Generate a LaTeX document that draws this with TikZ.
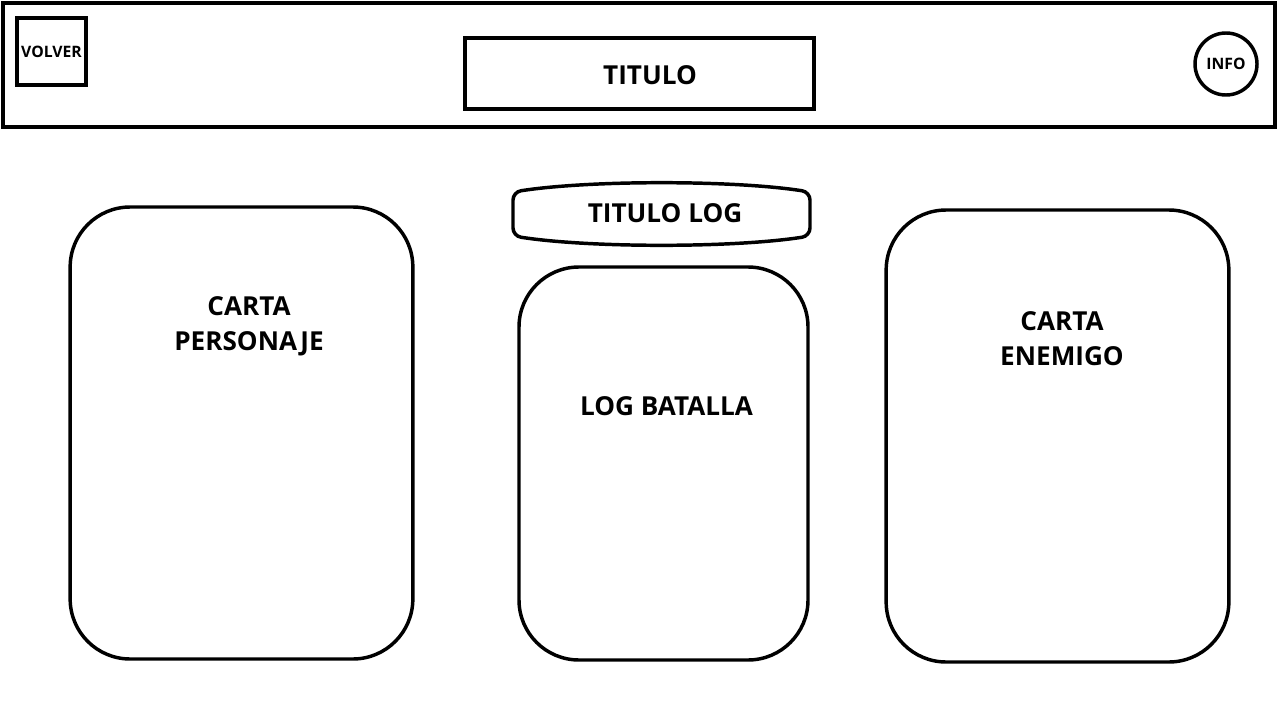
\documentclass[tikz,border=0pt]{standalone}
\usepackage{fontspec}
\setmainfont{Open Sans}
\begin{document}
\begin{tikzpicture}[x=0.75pt, y=-0.75pt,
       every node/.style={font=\bfseries\fontsize{19.6pt}{26.25pt}\selectfont, align=center},
       caja/.style={draw, line width=2.6pt, rectangle, inner sep=0pt},
       carta/.style={caja, rounded corners=45pt, minimum width=257pt, minimum height=339pt},
       chico/.style={font=\bfseries\fontsize{11.8pt}{13pt}\selectfont}]
\useasboundingbox (0,0) rectangle (1277,710);
% cabecera
\node[caja, line width=3pt, minimum width=954pt, minimum height=93pt] (cabecera) at (639,65) {};
\node[caja, minimum width=51.75pt, minimum height=50.25pt, chico] (volver) at (51.5,51.5) {VOLVER};
\node[caja, minimum width=261.75pt, minimum height=53.25pt] (titulo) at (639.5,73.5) {};
\node (txttitulo) at (650,75) {TITULO};
\node[caja, circle, minimum size=46.5pt, chico] (info) at (1226,64) {INFO};
% cartas
\node[carta] (personaje) at (241.5,433) {};
\node (txtpersonaje) at (249,326) {CARTA\\PERSONAJE};
\node[carta] (enemigo) at (1057.5,436) {};
\node (txtenemigo) at (1062,339) {CARTA\\ENEMIGO};
% log
\draw[line width=2.6pt, rounded corners=6pt] (513,192) .. controls (590,180) and (733,180) .. (810,192)
    -- (810,236) .. controls (733,248) and (590,248) .. (513,236) -- cycle;
\node (titulolog) at (665,213) {TITULO LOG};
\node[carta, minimum width=216.75pt, minimum height=294.75pt] (log) at (663.5,463.5) {};
\node (txtlog) at (666.5,406) {LOG BATALLA};
\end{tikzpicture}
\end{document}
